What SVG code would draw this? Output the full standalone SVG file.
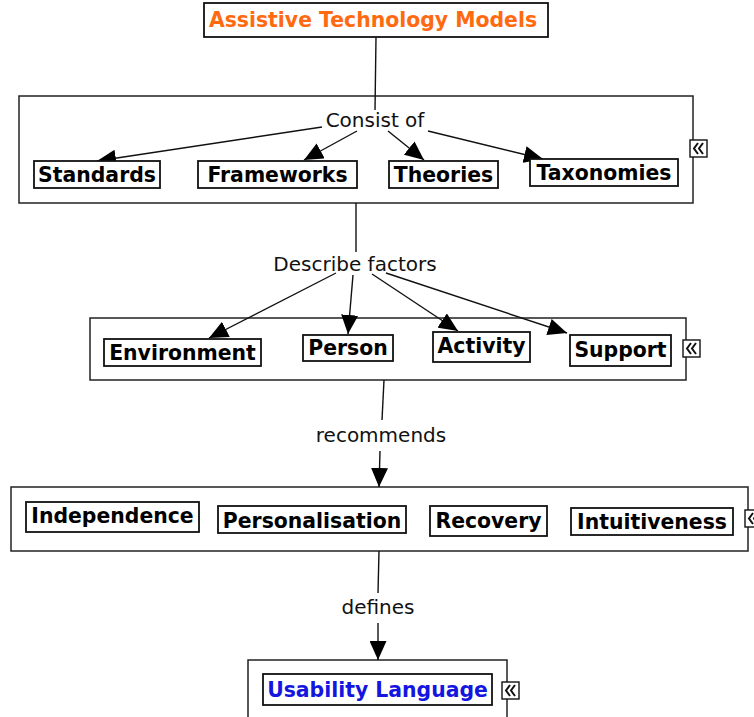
<svg xmlns="http://www.w3.org/2000/svg" width="754" height="717" viewBox="0 0 754 717">
  <style>
    .bg { fill: #ffffff; }
    .container { fill: #ffffff; stroke: #222222; stroke-width: 1.5; }
    .node rect { fill: #ffffff; stroke: #111111; stroke-width: 1.8; }
    .node text { font-family: "DejaVu Sans", Verdana, sans-serif; font-weight: bold; font-size: 20.4px; fill: #000000; text-anchor: middle; }
    .label { font-family: "DejaVu Sans", Verdana, sans-serif; font-size: 20px; fill: #111111; text-anchor: middle; }
    .edge { fill: none; stroke: #111111; stroke-width: 1.4; }
  </style>
  <defs>
    <marker id="arrow" markerUnits="userSpaceOnUse" markerWidth="20" markerHeight="17" refX="19" refY="8.5" orient="auto">
      <path d="M0,0 L19,8.5 L0,17 Z" fill="#000000"/>
    </marker>
    <!-- small "collapse" toggle shown beside each group frame -->
    <g id="collapse">
      <rect x="0" y="0" width="17" height="17" fill="#ffffff" stroke="#111111" stroke-width="1.4"/>
      <path d="M8,3 L4,8.5 L8,14 M13,3 L9,8.5 L13,14" fill="none" stroke="#111111" stroke-width="2"/>
    </g>
  </defs>

  <rect class="bg" x="0" y="0" width="754" height="717"/>

  <!-- group frames -->
  <g id="containers">
    <rect class="container" x="19" y="96" width="674" height="107"/>
    <rect class="container" x="90" y="318" width="596" height="62"/>
    <rect class="container" x="11" y="487" width="737" height="64"/>
    <rect class="container" x="248" y="660" width="259" height="70"/>
  </g>

  <!-- collapse toggles -->
  <g id="toggles">
    <use href="#collapse" x="690" y="140"/>
    <use href="#collapse" x="683" y="340"/>
    <use href="#collapse" x="745" y="510"/>
    <use href="#collapse" x="502" y="682"/>
  </g>

  <!-- connectors -->
  <g id="connectors">
    <path class="edge" d="M376,37 L375,110"/>
    <path class="edge" d="M322,127 L97,161" marker-end="url(#arrow)"/>
    <path class="edge" d="M357,131 L304,160" marker-end="url(#arrow)"/>
    <path class="edge" d="M388,131 L424,160" marker-end="url(#arrow)"/>
    <path class="edge" d="M428,131 L543,159" marker-end="url(#arrow)"/>

    <path class="edge" d="M356,203 L356,252"/>
    <path class="edge" d="M336,273 L209,338" marker-end="url(#arrow)"/>
    <path class="edge" d="M353,275 L348,334" marker-end="url(#arrow)"/>
    <path class="edge" d="M372,274 L458,331" marker-end="url(#arrow)"/>
    <path class="edge" d="M386,273 L567,333" marker-end="url(#arrow)"/>

    <path class="edge" d="M384,380 L382,420"/>
    <path class="edge" d="M380,451 L379,487" marker-end="url(#arrow)"/>

    <path class="edge" d="M379,551 L378,593"/>
    <path class="edge" d="M378,623 L378,660" marker-end="url(#arrow)"/>
  </g>

  <!-- connector labels -->
  <g id="labels">
    <text class="label" x="375" y="127">Consist of</text>
    <text class="label" x="355" y="271">Describe factors</text>
    <text class="label" x="381" y="442">recommends</text>
    <text class="label" x="378" y="614">defines</text>
  </g>

  <!-- nodes -->
  <g id="assistive-technology-models" class="node">
    <rect x="204" y="3" width="344" height="34"/>
    <text x="373" y="27" style="fill:#ff6a10">Assistive Technology Models</text>
  </g>

  <g id="standards" class="node">
    <rect x="34" y="161" width="126" height="27"/>
    <text x="97" y="182">Standards</text>
  </g>
  <g id="frameworks" class="node">
    <rect x="198" y="161" width="159" height="27"/>
    <text x="277.5" y="182">Frameworks</text>
  </g>
  <g id="theories" class="node">
    <rect x="389" y="161" width="109" height="27"/>
    <text x="443.5" y="182">Theories</text>
  </g>
  <g id="taxonomies" class="node">
    <rect x="530" y="159" width="148" height="27"/>
    <text x="604" y="180">Taxonomies</text>
  </g>

  <g id="environment" class="node">
    <rect x="104" y="339" width="157" height="27"/>
    <text x="182.5" y="360">Environment</text>
  </g>
  <g id="person" class="node">
    <rect x="303" y="335" width="90" height="26"/>
    <text x="348" y="355">Person</text>
  </g>
  <g id="activity" class="node">
    <rect x="433" y="332" width="97" height="30"/>
    <text x="481.5" y="353">Activity</text>
  </g>
  <g id="support" class="node">
    <rect x="570" y="335" width="101" height="31"/>
    <text x="620.5" y="357">Support</text>
  </g>

  <g id="independence" class="node">
    <rect x="26" y="502" width="173" height="30"/>
    <text x="112.5" y="523">Independence</text>
  </g>
  <g id="personalisation" class="node">
    <rect x="218" y="506" width="188" height="27"/>
    <text x="312" y="528">Personalisation</text>
  </g>
  <g id="recovery" class="node">
    <rect x="430" y="506" width="117" height="30"/>
    <text x="488.5" y="528">Recovery</text>
  </g>
  <g id="intuitiveness" class="node">
    <rect x="571" y="508" width="162" height="27"/>
    <text x="652" y="529">Intuitiveness</text>
  </g>

  <g id="usability-language" class="node">
    <rect x="263" y="674" width="229" height="31"/>
    <text x="377.5" y="697" style="fill:#1515e0">Usability Language</text>
  </g>
</svg>
